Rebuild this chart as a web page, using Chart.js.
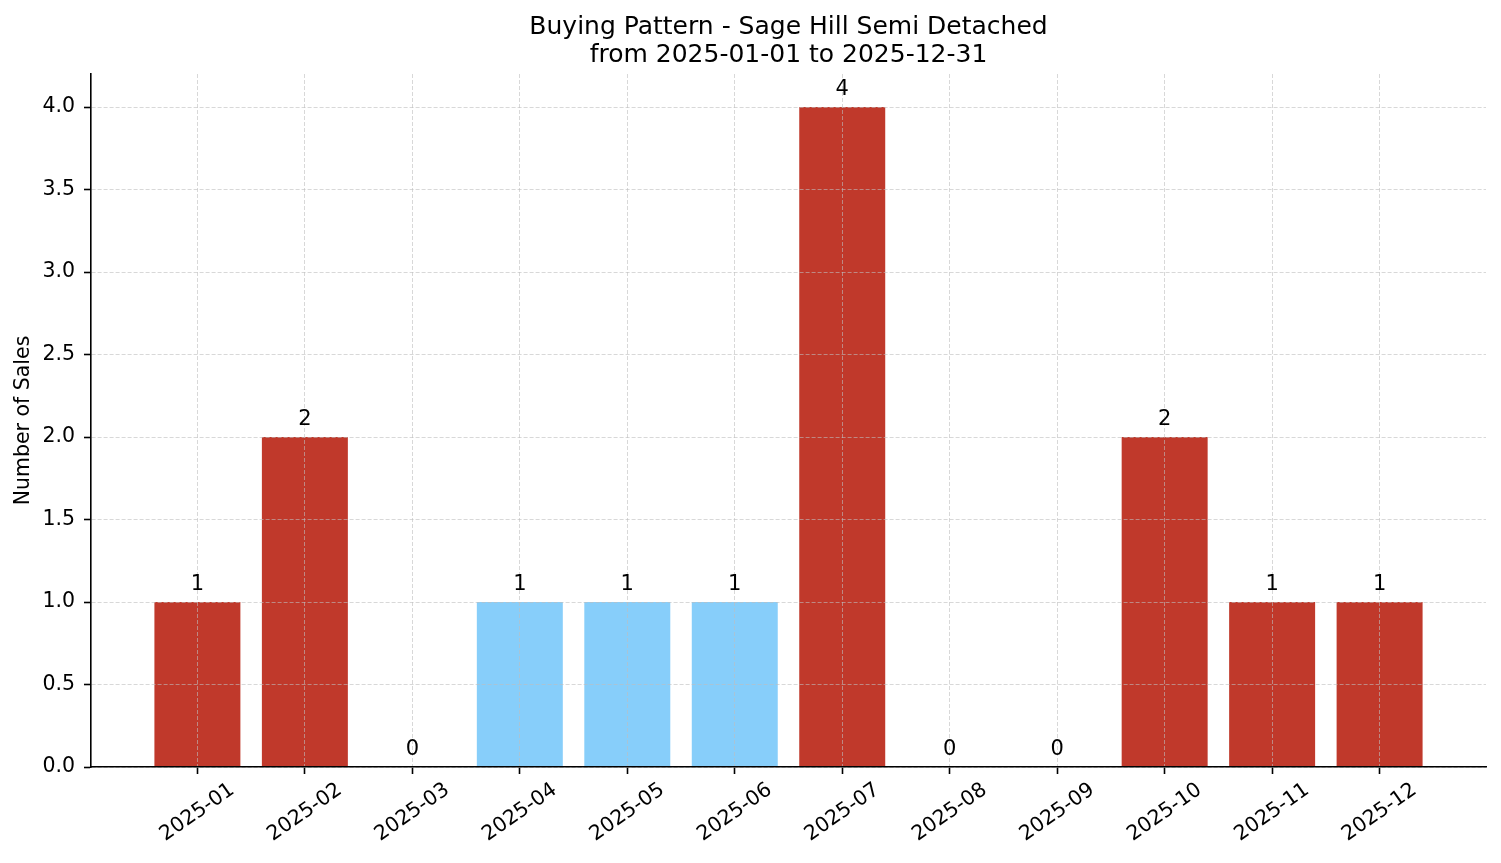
<!DOCTYPE html>
<html>
<head>
<meta charset="utf-8">
<title>Buying Pattern</title>
<script src="https://cdn.jsdelivr.net/npm/chart.js@4.4.1/dist/chart.umd.min.js"></script>
<style>
  html, body { margin: 0; padding: 0; background: #fff; }
  #wrap { width: 1501px; height: 863px; }
</style>
</head>
<body>
<div id="wrap"><canvas id="chart" width="1501" height="863"></canvas></div>
<script>
// data
const months = ['2025-01', '2025-02', '2025-03', '2025-04', '2025-05', '2025-06',
                '2025-07', '2025-08', '2025-09', '2025-10', '2025-11', '2025-12'];
const sales = [1, 2, 0, 1, 1, 1, 4, 0, 0, 2, 1, 1];
const highlightMonths = ['2025-04', '2025-05', '2025-06'];
const yTicks = [0, 0.5, 1.0, 1.5, 2.0, 2.5, 3.0, 3.5, 4.0];
const titleLines = ['Buying Pattern - Sage Hill Semi Detached', 'from 2025-01-01 to 2025-12-31'];
const yTitle = 'Number of Sales';

const RED = '#c0392b';
const BLUE = '#87cefa';
const FONT = '"DejaVu Sans", sans-serif';
const GRID = 'rgba(190,190,190,0.6)';

let points = months.map((m, i) => ({ x: i, y: sales[i] }));
let colors = months.map(m => highlightMonths.includes(m) ? BLUE : RED);

// titles, value labels and rotated month labels
const textPlugin = {
    id: 'texts',
    afterDraw(chart) {
        let ctx = chart.ctx;
        let xs = chart.scales.x, ys = chart.scales.y;
        let area = chart.chartArea;
        ctx.save();
        ctx.fillStyle = '#000';

        // title
        ctx.font = '25px ' + FONT;
        ctx.textAlign = 'center';
        ctx.textBaseline = 'alphabetic';
        let cx = (area.left + area.right) / 2;
        ctx.fillText(titleLines[0], cx, 34);
        ctx.fillText(titleLines[1], cx, 62);

        // y axis title
        ctx.font = '20.5px ' + FONT;
        ctx.save();
        ctx.translate(24, (area.top + area.bottom) / 2);
        ctx.rotate(-Math.PI / 2);
        ctx.textAlign = 'center';
        ctx.textBaseline = 'middle';
        ctx.fillText(yTitle, 0, 0);
        ctx.restore();

        // value labels
        ctx.font = '21px ' + FONT;
        ctx.textAlign = 'center';
        ctx.textBaseline = 'alphabetic';
        sales.forEach((v, i) => {
            ctx.fillText(String(v), xs.getPixelForValue(i), ys.getPixelForValue(v) - 12);
        });

        // month labels, rotated 35 deg, centred under the tick
        ctx.font = '20.5px ' + FONT;
        let ang = 35 * Math.PI / 180;
        let h = 24;
        months.forEach((m, i) => {
            let w = ctx.measureText(m).width;
            let bh = w * Math.sin(ang) + h * Math.cos(ang);
            let x = xs.getPixelForValue(i);
            let y = area.bottom + 11 + bh / 2;
            ctx.save();
            ctx.translate(x, y);
            ctx.rotate(-ang);
            ctx.textAlign = 'center';
            ctx.textBaseline = 'middle';
            ctx.fillText(m, 0, 0);
            ctx.restore();
        });
        ctx.restore();
    }
};

// grid drawn over the bars (z: 1), like the original
const gridOpts = {
    z: 1,
    color: GRID,
    lineWidth: 1,
    drawTicks: true,
    tickLength: 7,
    tickColor: '#000',
    tickWidth: 1.6,
    tickBorderDash: []
};

new Chart(document.getElementById('chart'), {
    type: 'bar',
    data: {
        datasets: [{
            data: points,
            backgroundColor: colors,
            borderWidth: 0,
            categoryPercentage: 1.0,
            barPercentage: 0.8
        }]
    },
    options: {
        responsive: false,
        animation: false,
        devicePixelRatio: 1,
        layout: { padding: { left: 0, top: 74, right: 15, bottom: 0 } },
        plugins: {
            legend: { display: false },
            tooltip: { enabled: false },
            title: { display: false }
        },
        scales: {
            x: {
                type: 'linear',
                min: -0.99,
                max: 11.99,
                offset: false,
                afterBuildTicks: s => { s.ticks = months.map((m, i) => ({ value: i })); },
                afterFit: s => { s.height = 96; },
                ticks: { display: false },
                grid: Object.assign({ offset: false }, gridOpts),
                border: { display: true, z: 2, color: '#000', width: 1.6, dash: [4, 2] }
            },
            y: {
                min: 0,
                max: 4.2,
                afterBuildTicks: s => { s.ticks = yTicks.map(v => ({ value: v })); },
                afterFit: s => { s.width = 91; },
                ticks: {
                    color: '#000',
                    padding: 9,
                    font: { family: FONT, size: 20.5 },
                    callback: v => Number(v).toFixed(1)
                },
                grid: gridOpts,
                border: { display: true, z: 2, color: '#000', width: 1.6, dash: [4, 2] }
            }
        }
    },
    plugins: [textPlugin]
});
</script>
</body>
</html>
